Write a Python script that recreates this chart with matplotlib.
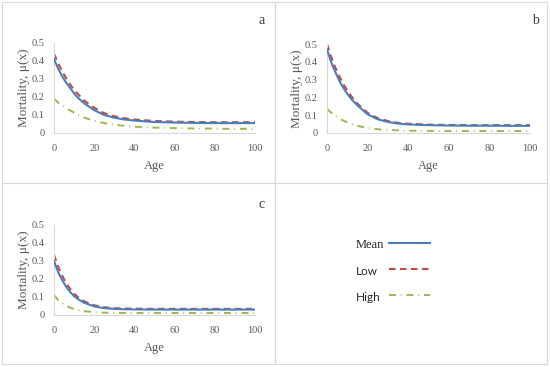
import matplotlib
matplotlib.use('Agg')
import matplotlib.pyplot as plt
from matplotlib.patches import Rectangle

age = [0, 2, 4, 6, 8, 10, 12, 15, 20, 25, 30, 35, 40, 50, 60, 70, 80, 90, 100]

mean_a = [0.41, 0.36, 0.316, 0.28, 0.25, 0.22, 0.195, 0.165, 0.127, 0.10, 0.085, 0.075, 0.069, 0.061, 0.058, 0.056, 0.055, 0.055, 0.055]
low_a = [0.44, 0.39, 0.345, 0.305, 0.27, 0.24, 0.215, 0.18, 0.14, 0.11, 0.093, 0.082, 0.075, 0.067, 0.063, 0.061, 0.06, 0.06, 0.06]
high_a = [0.19, 0.17, 0.155, 0.14, 0.125, 0.113, 0.10, 0.085, 0.068, 0.055, 0.046, 0.04, 0.035, 0.03, 0.027, 0.025, 0.024, 0.023, 0.023]

mean_b = [0.47, 0.40, 0.345, 0.295, 0.255, 0.22, 0.19, 0.155, 0.105, 0.077, 0.062, 0.053, 0.048, 0.044, 0.042, 0.041, 0.041, 0.04, 0.04]
low_b = [0.50, 0.43, 0.37, 0.32, 0.275, 0.24, 0.205, 0.165, 0.113, 0.083, 0.067, 0.057, 0.052, 0.047, 0.045, 0.044, 0.044, 0.044, 0.044]
high_b = [0.135, 0.115, 0.098, 0.083, 0.07, 0.06, 0.051, 0.04, 0.028, 0.021, 0.017, 0.015, 0.013, 0.012, 0.011, 0.011, 0.011, 0.011, 0.011]

mean_c = [0.30, 0.24, 0.195, 0.158, 0.128, 0.105, 0.088, 0.068, 0.048, 0.038, 0.034, 0.032, 0.031, 0.03, 0.03, 0.03, 0.03, 0.03, 0.03]
low_c = [0.335, 0.27, 0.22, 0.178, 0.145, 0.118, 0.098, 0.076, 0.054, 0.043, 0.038, 0.036, 0.035, 0.034, 0.034, 0.034, 0.034, 0.034, 0.034]
high_c = [0.11, 0.085, 0.066, 0.052, 0.041, 0.033, 0.027, 0.021, 0.016, 0.013, 0.012, 0.011, 0.011, 0.011, 0.011, 0.011, 0.011, 0.011, 0.011]

panels = [('a', mean_a, low_a, high_a), ('b', mean_b, low_b, high_b), ('c', mean_c, low_c, high_c)]
series_names = ['Mean', 'Low', 'High']

W, H = 550, 367
blue, red, green = '#4a7ebb', '#be4b48', '#98b954'
gray = '#595959'
edge = '#d9d9d9'
plt.rcParams['lines.scale_dashes'] = False
styles = [dict(color=blue, lw=1.5, zorder=3),
          dict(color=red, lw=1.5, dashes=(4.7, 3.2), zorder=2),
          dict(color=green, lw=1.4, dashes=(5, 3.5, 0.6, 3.5))]

fig = plt.figure(figsize=(W / 100, H / 100), dpi=100)

def px_axes(left, right, top, bottom):
    return fig.add_axes([left / W, 1 - bottom / H, (right - left) / W, (bottom - top) / H])

# panel frames (pixel boxes)
frames = [(2, 2, 275, 183), (275, 2, 547, 183), (2, 183, 275, 364), (275, 183, 547, 364)]
for x0, y0, x1, y1 in frames:
    fig.patches.append(Rectangle((x0 / W, 1 - y1 / H), (x1 - x0) / W, (y1 - y0) / H,
                                 transform=fig.transFigure, fill=False,
                                 edgecolor=edge, linewidth=0.8))

boxes = [(54, 255, 43, 133), (327, 530, 44, 133), (54, 255, 225, 315)]
letter_pos = [(262, 21), (535, 21), (262, 205)]

for (name, m, lo, hi), box, lp in zip(panels, boxes, letter_pos):
    ax = px_axes(*box)
    for vals, label, st in zip([m, lo, hi], series_names, styles):
        ax.plot(age, vals, label=label, **st)
    ax.set_xlim(0, 100)
    ax.set_ylim(0, 0.5)
    ax.set_xticks([0, 20, 40, 60, 80, 100])
    ax.set_yticks([0, 0.1, 0.2, 0.3, 0.4, 0.5])
    ax.set_yticklabels(['0', '0.1', '0.2', '0.3', '0.4', '0.5'])
    for s in ['top', 'right']:
        ax.spines[s].set_visible(False)
    for s in ['left', 'bottom']:
        ax.spines[s].set_color(edge)
        ax.spines[s].set_linewidth(0.8)
    ax.tick_params(length=0, labelsize=7.5, labelcolor=gray)
    ax.tick_params(axis='x', pad=8)
    ax.tick_params(axis='y', pad=7)
    for t in ax.get_xticklabels() + ax.get_yticklabels():
        t.set_family('Liberation Serif')
    ax.set_xlabel('Age', fontsize=9, color=gray, family='Liberation Serif', labelpad=5)
    ax.set_ylabel('Mortality, μ(x)', fontsize=9.5, color=gray, family='Liberation Serif', labelpad=1)
    fig.text(lp[0] / W, 1 - lp[1] / H, name, fontsize=10, color='#404040',
             family='Liberation Serif', ha='center', va='center')

# legend in the fourth panel, text on the left, sample line on the right
lax = px_axes(275, 547, 183, 364)
lax.set_xlim(275, 547)
lax.set_ylim(364, 183)
lax.axis('off')
legend_rows = [245, 271, 297]
legend_fonts = [('Liberation Serif', 9), ('Lato', 8.5), ('Lato', 8.5)]
for name, st, yrow, (fam, fs) in zip(series_names, styles, legend_rows, legend_fonts):
    lax.text(356, yrow, name, family=fam, fontsize=fs, color='#262626', va='center', ha='left')
    lax.plot([389, 430], [yrow - 2, yrow - 2], **st)

fig.savefig('out.png', dpi=100)
